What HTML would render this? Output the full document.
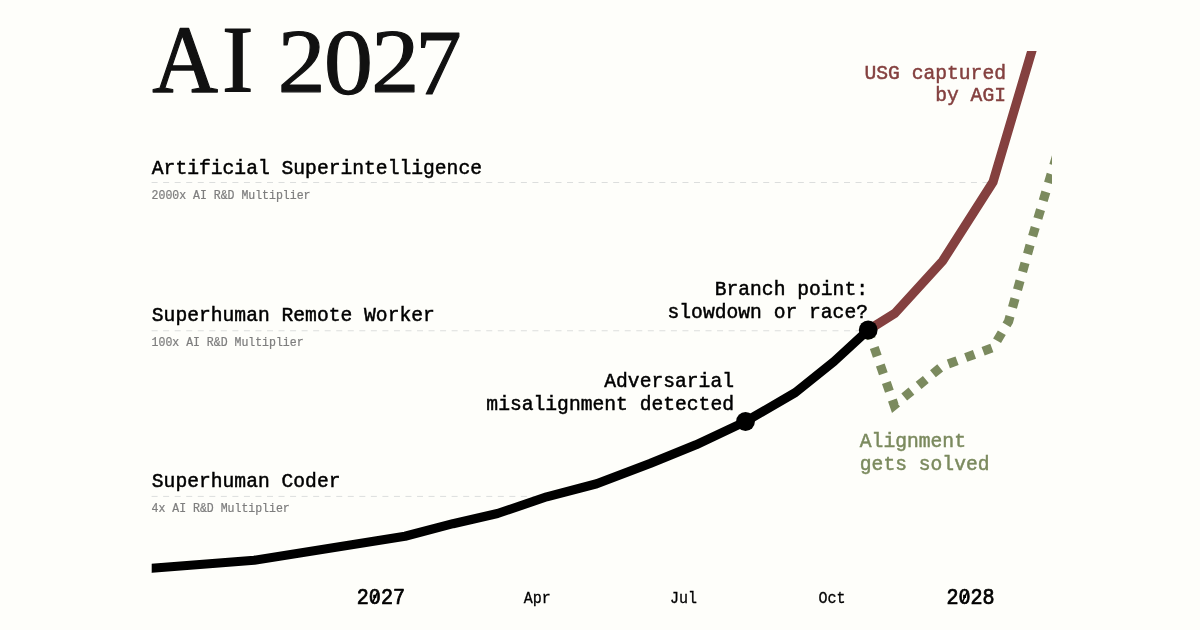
<!DOCTYPE html>
<html>
<head>
<meta charset="utf-8">
<title>AI 2027</title>
<style>
  html, body { margin: 0; padding: 0; }
  body { width: 1200px; height: 630px; overflow: hidden; background: #fefefa; }
  svg { display: block; position: absolute; left: 0; top: 0; will-change: transform; }
  .mono { font-family: "Liberation Mono", monospace; }
  .serif { font-family: "Liberation Serif", serif; }
</style>
</head>
<body>
<svg width="1200" height="630" viewBox="0 0 1200 630">
  <defs>
    <clipPath id="plot"><rect x="151.7" y="51" width="900.3" height="579"/></clipPath>
  </defs>
  <rect x="0" y="0" width="1200" height="630" fill="#fefefa"/>

  <!-- title -->
  <g class="serif" font-size="100" fill="#111111" stroke="#111111" stroke-width="1.3" stroke-linejoin="round">
    <text transform="matrix(0.9105 0 0 0.9634 152.16 91.85)">A</text>
    <text transform="matrix(0.9438 0 0 0.9469 221.94 91.85)">I</text>
    <text transform="matrix(0.9554 0 0 0.9183 277.65 91.85)">2</text>
    <text transform="matrix(0.9768 0 0 0.9262 323.93 92.65)">0</text>
    <text transform="matrix(0.9604 0 0 0.9183 371.33 91.85)">2</text>
    <text transform="matrix(0.9204 0 0 0.9362 415.38 93.55)">7</text>
  </g>

  <!-- grid lines -->
  <g stroke="#dcdedd" stroke-width="1" stroke-dasharray="6 5.54" fill="none">
    <line x1="151.6" y1="182.5" x2="990" y2="182.5"/>
    <line x1="151.6" y1="330.75" x2="866" y2="330.75"/>
    <line x1="151.6" y1="496.4" x2="545" y2="496.4"/>
  </g>

  <!-- milestone labels -->
  <g class="mono" fill="#000000" stroke="#000000" stroke-width="0.5">
    <text transform="translate(151.8 174.4) scale(0.9365 1)" font-size="21.00">Artificial Superintelligence</text>
    <text transform="translate(151.8 321.4) scale(0.9365 1)" font-size="21.00">Superhuman Remote Worker</text>
    <text transform="translate(151.8 487.4) scale(0.9365 1)" font-size="21.00">Superhuman Coder</text>
  </g>
  <g class="mono" fill="#7e7e7e" stroke="#7e7e7e" stroke-width="0.25">
    <text transform="translate(151.6 198.65) scale(0.8870 1)" font-size="13.00">2000x AI R&amp;D Multiplier</text>
    <text transform="translate(151.6 345.8) scale(0.8870 1)" font-size="13.00">100x AI R&amp;D Multiplier</text>
    <text transform="translate(151.6 511.6) scale(0.8870 1)" font-size="13.00">4x AI R&amp;D Multiplier</text>
  </g>

  <!-- curves -->
  <g clip-path="url(#plot)" fill="none">
    <polyline stroke="#7b8a5e" stroke-width="9.2" stroke-dasharray="9.3 9.2" stroke-linejoin="miter"
      points="868.2,330.0 894.2,405.2 942.3,366.1 993,347.6 1008.6,321.3 1031.9,238.5 1058.4,150"/>
    <polyline stroke="#84403f" stroke-width="9.2" stroke-linejoin="miter"
      points="868.2,330.0 894.7,313.5 942.6,261 993,182 1041,20"/>
    <polyline stroke="#000000" stroke-width="9.1" stroke-linejoin="round"
      points="100,572.4 151.7,568.3 254.2,560.25 405,536.25 453,523.7 497.5,513.5 546.7,496.8 596.7,483.75 650,463.5 696,444.8 745.5,421.5 795.4,392.5 834,361.5 868.2,330.0"/>
  </g>
  <circle cx="745.5" cy="421.5" r="9.4" fill="#000"/>
  <circle cx="868.2" cy="330.0" r="9.4" fill="#000"/>

  <!-- annotations -->
  <g class="mono" fill="#000000" stroke="#000000" stroke-width="0.5">
    <text transform="translate(734.0 386.8) scale(0.9365 1)" font-size="21.00" text-anchor="end">Adversarial</text>
    <text transform="translate(734.0 409.8) scale(0.9365 1)" font-size="21.00" text-anchor="end">misalignment detected</text>
    <text transform="translate(868 294.6) scale(0.9365 1)" font-size="21.00" text-anchor="end">Branch point:</text>
    <text transform="translate(868 317.6) scale(0.9365 1)" font-size="21.00" text-anchor="end">slowdown or race?</text>
  </g>
  <g class="mono" fill="#84403f" stroke="#84403f" stroke-width="0.5">
    <text transform="translate(1006 78.7) scale(0.9365 1)" font-size="21.00" text-anchor="end">USG captured</text>
    <text transform="translate(1006 101.4) scale(0.9365 1)" font-size="21.00" text-anchor="end">by AGI</text>
  </g>
  <g class="mono" fill="#7b8a5e" stroke="#7b8a5e" stroke-width="0.5">
    <text transform="translate(859.8 446.5) scale(0.9365 1)" font-size="21.00">Alignment</text>
    <text transform="translate(859.8 469.75) scale(0.9365 1)" font-size="21.00">gets solved</text>
  </g>

  <!-- x axis -->
  <g class="mono" fill="#000000" stroke="#000000" stroke-width="0.75" stroke-linejoin="round">
    <text transform="translate(380.9 604.2) scale(0.9419 1)" font-size="21.30" text-anchor="middle">2027</text>
    <text transform="translate(970.5 604.2) scale(0.9419 1)" font-size="21.30" text-anchor="middle">2028</text>
  </g>
  <g stroke="#000000" stroke-width="1.5" stroke-linecap="round">
    <line x1="373.0" y1="601.6" x2="377.2" y2="592.8"/>
    <line x1="962.6" y1="601.6" x2="966.8" y2="592.8"/>
  </g>
  <g class="mono" fill="#000000" stroke="#000000" stroke-width="0.3">
    <text transform="translate(537.2 602.5) scale(0.9365 1)" font-size="16.07" text-anchor="middle">Apr</text>
    <text transform="translate(683.6 602.5) scale(0.9365 1)" font-size="16.07" text-anchor="middle">Jul</text>
    <text transform="translate(832.1 602.5) scale(0.9365 1)" font-size="16.07" text-anchor="middle">Oct</text>
  </g>
</svg>
</body>
</html>
